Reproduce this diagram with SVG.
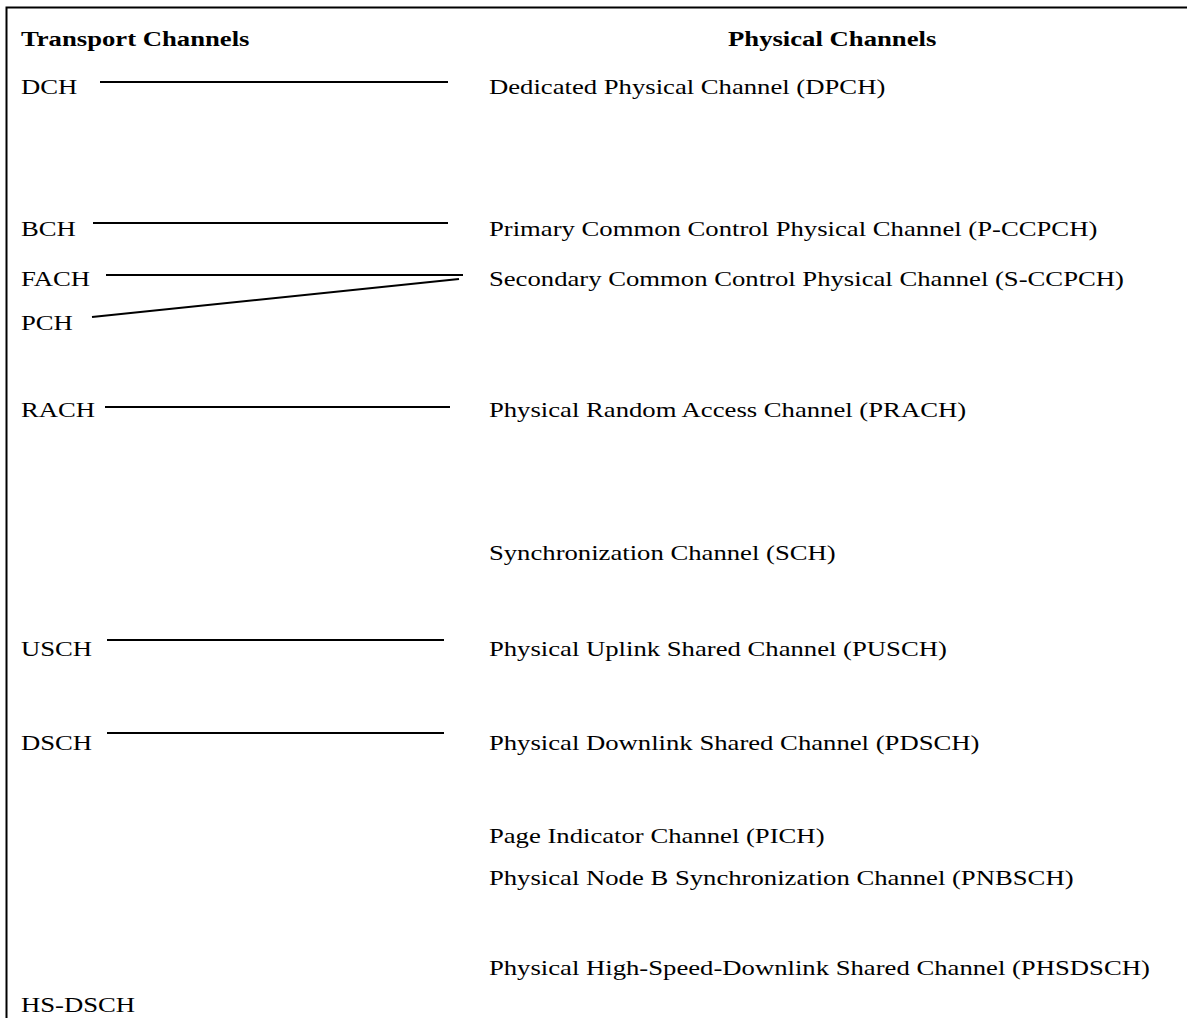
<svg xmlns="http://www.w3.org/2000/svg" width="1187" height="1018" viewBox="0 0 1187 1018">
<style>
text{font-family:"Liberation Serif","Times New Roman",serif;font-size:21px;fill:#000}
.h{font-weight:bold}
.c{stroke:#000;stroke-width:2;fill:none}
</style>
<rect width="1187" height="1018" fill="#fff"/>
<path d="M6.5 1018V7.5H1187" stroke="#000" stroke-width="2" fill="none"/>
<g transform="scale(1.271,1)">
<g id="headers">
<text class="h" x="16.5" y="46">Transport Channels</text>
<text class="h" x="572.8" y="46">Physical Channels</text>
</g>
<g id="transport">
<text id="t-dch" x="16.5" y="94">DCH</text>
<text id="t-bch" x="16.5" y="236">BCH</text>
<text id="t-fach" x="16.5" y="286">FACH</text>
<text id="t-pch" x="16.5" y="330">PCH</text>
<text id="t-rach" x="16.5" y="417">RACH</text>
<text id="t-usch" x="16.5" y="656">USCH</text>
<text id="t-dsch" x="16.5" y="750">DSCH</text>
<text id="t-hsdsch" x="16.5" y="1012">HS-DSCH</text>
</g>
<g id="physical">
<text id="p-dpch" x="384.7" y="94">Dedicated Physical Channel (DPCH)</text>
<text id="p-pccpch" x="384.7" y="236">Primary Common Control Physical Channel (P-CCPCH)</text>
<text id="p-sccpch" x="384.7" y="286">Secondary Common Control Physical Channel (S-CCPCH)</text>
<text id="p-prach" x="384.7" y="417">Physical Random Access Channel (PRACH)</text>
<text id="p-sch" x="384.7" y="560">Synchronization Channel (SCH)</text>
<text id="p-pusch" x="384.7" y="656">Physical Uplink Shared Channel (PUSCH)</text>
<text id="p-pdsch" x="384.7" y="750">Physical Downlink Shared Channel (PDSCH)</text>
<text id="p-pich" x="384.7" y="843">Page Indicator Channel (PICH)</text>
<text id="p-pnbsch" x="384.7" y="885">Physical Node B Synchronization Channel (PNBSCH)</text>
<text id="p-phsdsch" x="384.7" y="975">Physical High-Speed-Downlink Shared Channel (PHSDSCH)</text>
</g>
</g>
<g id="connectors">
<line class="c" x1="100" y1="82" x2="448" y2="82"/>
<line class="c" x1="93" y1="223" x2="448" y2="223"/>
<line class="c" x1="106" y1="275" x2="463" y2="275"/>
<line class="c" x1="92" y1="317" x2="459" y2="279"/>
<line class="c" x1="105" y1="407" x2="450" y2="407"/>
<line class="c" x1="107" y1="640" x2="444" y2="640"/>
<line class="c" x1="107" y1="733" x2="444" y2="733"/>
</g>
</svg>
